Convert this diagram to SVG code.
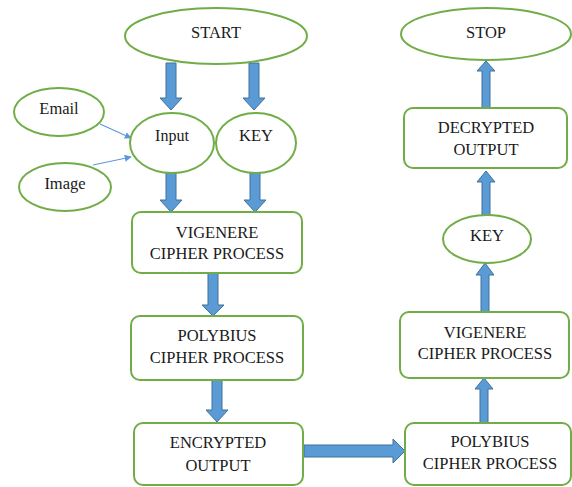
<svg xmlns="http://www.w3.org/2000/svg" width="572" height="487" viewBox="0 0 572 487">
<defs>
<style>
.n{fill:#fff;stroke:#70AD47;stroke-width:2}
.t{font-family:"Liberation Serif","Times New Roman",serif;font-size:16.5px;fill:#1a1a1a;text-anchor:middle}
.a{fill:#5B9BD5;stroke:#41719C;stroke-width:1}
.thin{stroke:#5B9BD5;stroke-width:1.2;fill:none}
</style>
<marker id="ah" viewBox="0 0 10 10" refX="9" refY="5" markerWidth="7" markerHeight="7" orient="auto" markerUnits="userSpaceOnUse">
<path d="M0,0 L10,5 L0,10 Z" fill="#5B9BD5"/>
</marker>
</defs>
<rect width="572" height="487" fill="#fff"/>
<g id="connectors">
<line class="thin" x1="100" y1="124" x2="131" y2="138" marker-end="url(#ah)"/>
<line class="thin" x1="93" y1="165" x2="131" y2="157" marker-end="url(#ah)"/>
<polygon class="a" points="166,63 176,63 176,98 182,98 171,110 160,98 166,98"/>
<polygon class="a" points="249,63 259,63 259,98 265,98 254,110 243,98 249,98"/>
<polygon class="a" points="166,172 176,172 176,200 182,200 171,212 160,200 166,200"/>
<polygon class="a" points="250,172 260,172 260,200 266,200 255,212 244,200 250,200"/>
<polygon class="a" points="208,273 218,273 218,305 224,305 213,316 202,305 208,305"/>
<polygon class="a" points="212,380 222,380 222,410 228,410 217,422 206,410 212,410"/>
<polygon class="a" points="304,445 393,445 393,439 405,451 393,463 393,457 304,457"/>
<polygon class="a" points="482,108 490,108 490,71 495,71 486,61 477,71 482,71"/>
<polygon class="a" points="482,215 490,215 490,182 495,182 486,171 477,182 482,182"/>
<polygon class="a" points="481,312 489,312 489,275 494,275 485,263 476,275 481,275"/>
<polygon class="a" points="480,423 488,423 488,389 493,389 484,378 475,389 480,389"/>
</g>
<g id="start"><ellipse class="n" cx="216" cy="36" rx="91" ry="28"/><text class="t" x="216" y="38">START</text></g>
<g id="email"><ellipse class="n" cx="59" cy="112" rx="45" ry="24"/><text class="t" x="59" y="114">Email</text></g>
<g id="image"><ellipse class="n" cx="65" cy="187" rx="46" ry="24"/><text class="t" x="65" y="189">Image</text></g>
<g id="input"><ellipse class="n" cx="172" cy="143" rx="42" ry="30"/><text class="t" x="172" y="141" style="font-size:16px">Input</text></g>
<g id="key1"><ellipse class="n" cx="256" cy="143" rx="40" ry="30"/><text class="t" x="256" y="141">KEY</text></g>
<g id="vig1"><rect class="n" x="132" y="212" width="170" height="61" rx="9"/><text class="t" x="217" y="238">VIGENERE</text><text class="t" x="217" y="259">CIPHER PROCESS</text></g>
<g id="poly1"><rect class="n" x="131" y="316" width="172" height="64" rx="9"/><text class="t" x="217" y="341">POLYBIUS</text><text class="t" x="217" y="363">CIPHER PROCESS</text></g>
<g id="enc"><rect class="n" x="134" y="423" width="169" height="62" rx="9"/><text class="t" x="218" y="448">ENCRYPTED</text><text class="t" x="218" y="471">OUTPUT</text></g>
<g id="stop"><ellipse class="n" cx="486" cy="34" rx="85" ry="26"/><text class="t" x="486" y="38">STOP</text></g>
<g id="dec"><rect class="n" x="404" y="108" width="163" height="60" rx="9"/><text class="t" x="486" y="133">DECRYPTED</text><text class="t" x="486" y="155">OUTPUT</text></g>
<g id="key2"><ellipse class="n" cx="487" cy="239" rx="44" ry="24"/><text class="t" x="487" y="241">KEY</text></g>
<g id="vig2"><rect class="n" x="400" y="312" width="169" height="66" rx="9"/><text class="t" x="485" y="338">VIGENERE</text><text class="t" x="485" y="359">CIPHER PROCESS</text></g>
<g id="poly2"><rect class="n" x="405" y="423" width="166" height="62" rx="9"/><text class="t" x="490" y="447">POLYBIUS</text><text class="t" x="490" y="469">CIPHER PROCESS</text></g>
</svg>
